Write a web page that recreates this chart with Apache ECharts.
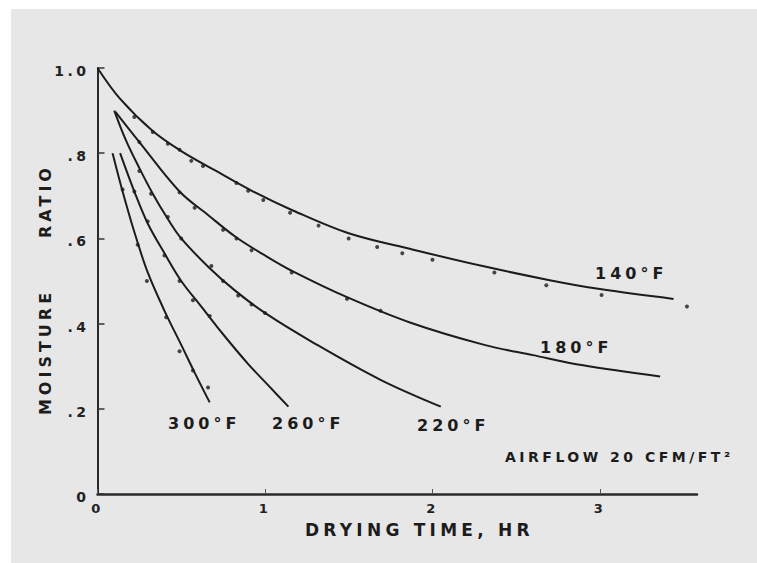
<!DOCTYPE html>
<html>
<head>
<meta charset="utf-8">
<script src="https://cdn.jsdelivr.net/npm/echarts@6/dist/echarts.min.js"></script>
<style>
  html, body { margin: 0; padding: 0; background: #ffffff; }
  .paper { position: absolute; left: 11px; top: 9px; width: 746px; height: 554px; background: #e7e7e7; }
  #chart { position: absolute; left: 0; top: 0; width: 757px; height: 563px; }
  #chart text { letter-spacing: 0.25em; }
</style>
</head>
<body>
<div class="paper"></div>
<div id="chart"></div>
<script>
// axis ticks
const xTicks = [0, 1, 2, 3]
const yTickLabels = { 0: '0', 0.2: '.2', 0.4: '.4', 0.6: '.6', 0.8: '.8', 1: '1.0' }

// fitted curves, [drying time hr, moisture ratio]
const curve140 = [[0, 1.0], [0.13, 0.93], [0.33, 0.852], [0.5, 0.805], [0.7, 0.76], [0.93, 0.71], [1.17, 0.665], [1.5, 0.612], [1.88, 0.574], [2.3, 0.535], [2.7, 0.502], [3.0, 0.481], [3.44, 0.458]]
const curve180 = [[0.107, 0.897], [0.25, 0.826], [0.49, 0.71], [0.66, 0.655], [0.83, 0.602], [1.0, 0.56], [1.17, 0.522], [1.49, 0.462], [1.87, 0.402], [2.31, 0.35], [2.6, 0.326], [2.9, 0.302], [3.36, 0.276]]
const curve220 = [[0.10, 0.90], [0.17, 0.83], [0.25, 0.765], [0.33, 0.705], [0.41, 0.652], [0.5, 0.6], [0.67, 0.53], [0.82, 0.478], [1.0, 0.425], [1.29, 0.355], [1.69, 0.268], [2.05, 0.205]]
const curve260 = [[0.135, 0.80], [0.22, 0.71], [0.30, 0.635], [0.40, 0.565], [0.50, 0.50], [0.62, 0.44], [0.75, 0.375], [0.90, 0.305], [1.02, 0.255], [1.14, 0.205]]
const curve300 = [[0.09, 0.80], [0.15, 0.71], [0.22, 0.615], [0.30, 0.52], [0.40, 0.43], [0.50, 0.35], [0.58, 0.285], [0.67, 0.215]]

// measured points
const dots140 = [[0.22, 0.885], [0.33, 0.85], [0.42, 0.822], [0.49, 0.808], [0.56, 0.782], [0.63, 0.77], [0.83, 0.73], [0.9, 0.712], [0.99, 0.69], [1.15, 0.66], [1.32, 0.63], [1.5, 0.6], [1.67, 0.58], [1.82, 0.565], [2.0, 0.55], [2.37, 0.52], [2.68, 0.49], [3.01, 0.467], [3.52, 0.44]]
const dots180 = [[0.25, 0.826], [0.49, 0.708], [0.58, 0.672], [0.75, 0.62], [0.83, 0.6], [0.92, 0.572], [1.16, 0.52], [1.49, 0.458], [1.69, 0.43]]
const dots220 = [[0.25, 0.758], [0.32, 0.705], [0.42, 0.65], [0.5, 0.6], [0.68, 0.535], [0.75, 0.5], [0.84, 0.466], [0.92, 0.445], [1.0, 0.425]]
const dots260 = [[0.22, 0.71], [0.3, 0.64], [0.4, 0.56], [0.49, 0.5], [0.57, 0.455], [0.67, 0.418]]
const dots300 = [[0.15, 0.715], [0.24, 0.585], [0.295, 0.5], [0.41, 0.415], [0.49, 0.335], [0.57, 0.29], [0.66, 0.25]]

const ink = '#1c1c1c'
const labelFont = 'bold 16px "DejaVu Sans"'

const lineSeries = (name, data) => ({
  name: name,
  type: 'line',
  data: data,
  smooth: 0.35,
  showSymbol: false,
  lineStyle: { color: ink, width: 2 },
  z: 3
})

const dotSeries = (name, data) => ({
  name: name,
  type: 'scatter',
  data: data,
  symbolSize: 4,
  itemStyle: { color: ink },
  z: 4
})

const chart = echarts.init(document.getElementById('chart'), null, { renderer: 'svg' })

chart.setOption({
  backgroundColor: 'transparent',
  animation: false,
  textStyle: { fontFamily: 'DejaVu Sans' },
  grid: { left: 97.5, right: 60, top: 68, bottom: 69 },
  xAxis: {
    type: 'value',
    min: 0,
    max: 3.58,
    interval: 1,
    axisLine: { show: true, lineStyle: { color: '#2a2a2a', width: 2.5 } },
    axisTick: { show: true, inside: true, length: 5, lineStyle: { color: '#555', width: 1 } },
    axisLabel: {
      margin: 8,
      showMaxLabel: false,
      color: '#222',
      fontWeight: 'bold',
      fontSize: 13,
      formatter: v => (xTicks.includes(v) ? String(v) : '')
    },
    splitLine: { show: false }
  },
  yAxis: {
    type: 'value',
    min: 0,
    max: 1,
    interval: 0.2,
    axisLine: { show: true, lineStyle: { color: '#2a2a2a', width: 2 } },
    axisTick: { show: true, inside: true, length: 7, lineStyle: { color: '#333', width: 1.5 } },
    axisLabel: {
      margin: 8,
      color: '#222',
      fontWeight: 'bold',
      fontSize: 14,
      verticalAlign: 'top',
      padding: [-4, 0, 0, 0],
      formatter: v => yTickLabels[Math.round(v * 10) / 10]
    },
    splitLine: { show: false }
  },
  series: [
    lineSeries('140°F', curve140),
    lineSeries('180°F', curve180),
    lineSeries('220°F', curve220),
    lineSeries('260°F', curve260),
    lineSeries('300°F', curve300),
    dotSeries('140°F pts', dots140),
    dotSeries('180°F pts', dots180),
    dotSeries('220°F pts', dots220),
    dotSeries('260°F pts', dots260),
    dotSeries('300°F pts', dots300)
  ],
  graphic: [
    { type: 'text', x: 595, y: 273, style: { text: '140°F', font: labelFont, fill: ink, textAlign: 'left', textVerticalAlign: 'middle' } },
    { type: 'text', x: 540, y: 347, style: { text: '180°F', font: labelFont, fill: ink, textAlign: 'left', textVerticalAlign: 'middle' } },
    { type: 'text', x: 417, y: 425, style: { text: '220°F', font: labelFont, fill: ink, textAlign: 'left', textVerticalAlign: 'middle' } },
    { type: 'text', x: 272, y: 423, style: { text: '260°F', font: labelFont, fill: ink, textAlign: 'left', textVerticalAlign: 'middle' } },
    { type: 'text', x: 168, y: 423, style: { text: '300°F', font: labelFont, fill: ink, textAlign: 'left', textVerticalAlign: 'middle' } },
    { type: 'text', x: 505, y: 457, style: { text: 'AIRFLOW 20 CFM/FT²', font: 'bold 14px "DejaVu Sans"', fill: ink, textAlign: 'left', textVerticalAlign: 'middle' } },
    { type: 'text', x: 305, y: 530, style: { text: 'DRYING TIME, HR', font: 'bold 17px "DejaVu Sans"', fill: ink, textAlign: 'left', textVerticalAlign: 'middle' } },
    { type: 'text', x: 45, y: 352, rotation: Math.PI / 2, style: { text: 'MOISTURE', font: 'bold 16px "DejaVu Sans"', fill: ink, textAlign: 'center', textVerticalAlign: 'middle' } },
    { type: 'text', x: 45, y: 201, rotation: Math.PI / 2, style: { text: 'RATIO', font: 'bold 16px "DejaVu Sans"', fill: ink, textAlign: 'center', textVerticalAlign: 'middle' } }
  ]
})
</script>
</body>
</html>
